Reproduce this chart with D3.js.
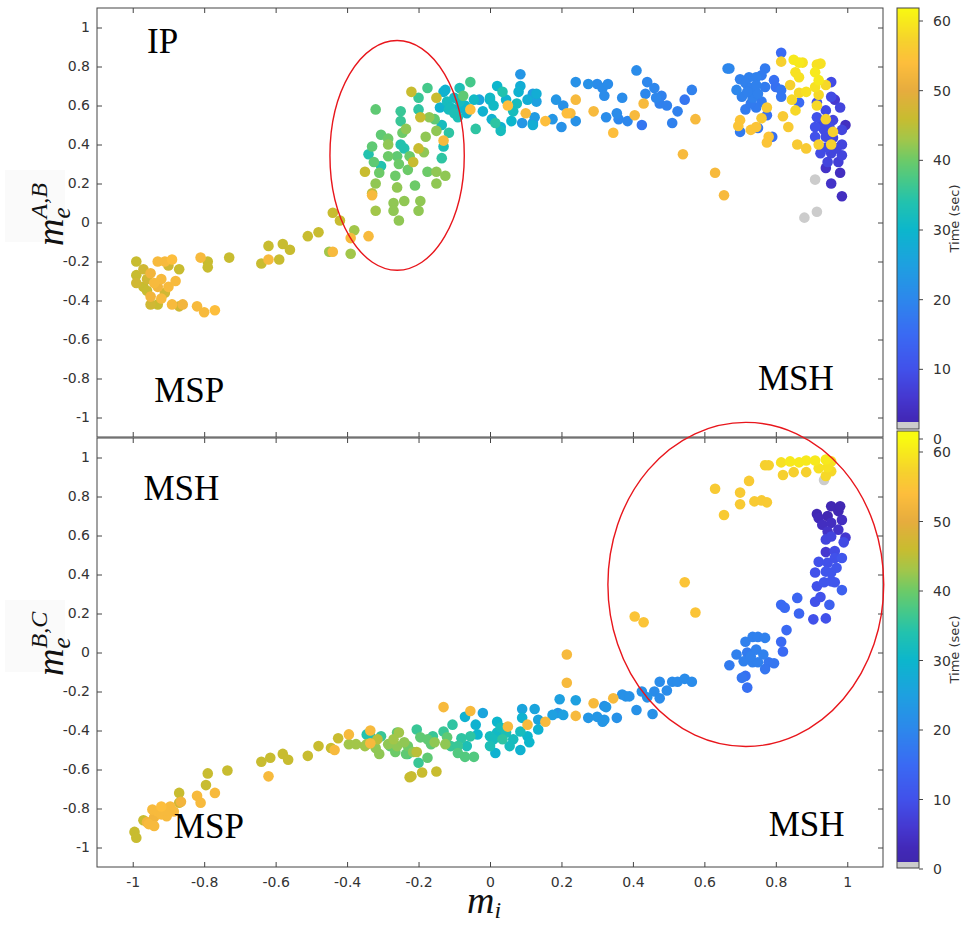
<!DOCTYPE html>
<html>
<head>
<meta charset="utf-8">
<script src="https://cdn.jsdelivr.net/npm/d3@7"></script>
<style>
  body { margin: 0; background: #fff; }
</style>
</head>
<body>
<div id="chart"></div>
<script>
// tick values / labels
var xTicks = [-1, -0.8, -0.6, -0.4, -0.2, 0, 0.2, 0.4, 0.6, 0.8, 1];
var yTicks = [-1, -0.8, -0.6, -0.4, -0.2, 0, 0.2, 0.4, 0.6, 0.8, 1];
var cbTicks = [0, 10, 20, 30, 40, 50, 60];
var cbTitle = "Time (sec)";

// region labels [text, m_i, m_e] (text left / baseline)
var topNotes = [["IP", -0.96, 0.87], ["MSP", -0.94, -0.92], ["MSH", 0.75, -0.86]];
var botNotes = [["MSH", -0.97, 0.78], ["MSP", -0.885, -0.95], ["MSH", 0.78, -0.94]];

// red ellipses [cx, cy, rx, ry] in data units
var topEllipse = [-0.26, 0.344, 0.188, 0.589];
var botEllipse = [0.716, 0.349, 0.386, 0.831];

// points: [m_i, m_e, time in sec]  (time 0 = grey / no value)
var topPts = [
  [-0.99,-0.20,46],[-0.99,-0.27,46],[-0.99,-0.31,47],[-0.97,-0.33,46],[-0.96,-0.29,47],[-0.95,-0.26,52],[-0.93,-0.20,53],
  [-0.91,-0.20,53],[-0.89,-0.19,54],[-0.90,-0.22,47],[-0.87,-0.24,46],[-0.92,-0.29,53],[-0.93,-0.33,52],[-0.90,-0.33,53],
  [-0.91,-0.36,47],[-0.95,-0.38,52],[-0.95,-0.42,47],[-0.93,-0.42,46],[-0.89,-0.42,53],[-0.86,-0.42,52],[-0.87,-0.43,47],
  [-0.82,-0.43,53],[-0.80,-0.46,53],[-0.77,-0.45,54],[-0.81,-0.18,53],[-0.79,-0.20,46],[-0.79,-0.23,46],[-0.73,-0.18,46],
  [-0.64,-0.21,46],[-0.62,-0.19,53],[-0.59,-0.19,46],[-0.62,-0.12,46],[-0.58,-0.11,46],[-0.56,-0.14,46],[-0.51,-0.07,46],
  [-0.48,-0.05,46],[-0.44,0.05,46],[-0.42,0.01,46],[-0.38,-0.04,43],[-0.39,-0.08,53],[-0.45,-0.15,43],[-0.44,-0.15,53],
  [-0.39,-0.16,43],[-0.34,-0.07,53],[-0.33,0.14,53],[-0.32,0.06,43],
  [-0.97,-0.24,47],[-0.94,-0.31,53],[-0.92,-0.39,53],[-0.96,-0.35,46],[-0.88,-0.30,53],
  [-0.32,0.58,39],[-0.25,0.57,36],[-0.25,0.52,36],[-0.22,0.67,46],[-0.175,0.69,37],[-0.20,0.64,36],[-0.20,0.58,35],
  [-0.195,0.54,46],[-0.17,0.54,42],[-0.155,0.53,39],[-0.15,0.64,46],[-0.15,0.47,42],[-0.13,0.42,53],[-0.13,0.39,33],
  [-0.135,0.33,35],[-0.115,0.46,35],[-0.135,0.50,32],[-0.18,0.44,42],[-0.235,0.48,42],[-0.245,0.46,40],[-0.285,0.43,40],
  [-0.305,0.45,39],[-0.33,0.39,39],[-0.34,0.35,34],[-0.325,0.31,39],[-0.305,0.29,34],[-0.285,0.40,42],[-0.25,0.40,34],
  [-0.24,0.38,34],[-0.285,0.34,40],[-0.26,0.34,39],[-0.225,0.34,40],[-0.20,0.38,46],[-0.185,0.36,42],[-0.215,0.31,46],
  [-0.255,0.30,40],[-0.23,0.27,40],[-0.175,0.26,40],[-0.15,0.26,42],[-0.125,0.24,42],[-0.35,0.26,46],[-0.31,0.255,40],
  [-0.265,0.24,40],[-0.32,0.20,42],[-0.26,0.18,42],[-0.21,0.19,40],[-0.15,0.20,42],[-0.33,0.15,45],[-0.27,0.10,42],
  [-0.27,0.06,42],[-0.24,0.11,42],[-0.195,0.11,42],[-0.20,0.06,42],[-0.255,0.01,42],
  [-0.13,0.67,29],[-0.12,0.62,32],[-0.14,0.59,29],[-0.115,0.58,32],[-0.09,0.58,29],[-0.075,0.65,39],[-0.055,0.72,37],
  [-0.085,0.69,33],[-0.085,0.62,32],[-0.09,0.54,33],[-0.065,0.56,29],[-0.045,0.63,31],[-0.055,0.58,54],[-0.04,0.48,35],
  [-0.03,0.63,26],[-0.02,0.57,29],[0.0,0.63,30],[0.02,0.70,30],[0.005,0.53,29],[0.03,0.49,29],[0.035,0.67,34],
  [0.05,0.60,54],[0.085,0.76,23],[0.085,0.70,28],[0.075,0.61,32],[0.10,0.56,53],[0.09,0.51,23],[0.12,0.66,24],
  [0.13,0.62,25],[0.12,0.51,24],[0.155,0.52,54],[0.185,0.63,23],[-0.125,0.68,29],[-0.11,0.59,32],[0.0,0.64,31],
  [0.015,0.51,35],[0.03,0.47,32],[0.065,0.57,32],[0.08,0.67,29],[0.105,0.63,28],[0.12,0.50,28],[0.13,0.66,28],
  [0.125,0.54,24],[0.175,0.53,23],[0.20,0.49,22],[0.205,0.60,22],[0.215,0.56,54],[0.225,0.56,53],[0.24,0.63,53],
  [0.24,0.72,22],[0.24,0.52,22],[0.275,0.71,22],[0.29,0.57,53],[0.30,0.71,21],[0.315,0.69,21],[0.32,0.65,21],
  [0.33,0.71,21],[0.325,0.54,21],[0.345,0.46,54],[0.355,0.56,21],[0.37,0.64,21],[0.36,0.53,20],[0.385,0.52,20],
  [0.405,0.55,53],[0.41,0.78,21],[0.425,0.50,17],[0.43,0.61,53],[0.435,0.66,20],[0.44,0.72,20],[0.46,0.69,20],
  [0.465,0.64,20],[0.48,0.65,19],[0.475,0.61,19],[0.495,0.60,19],[0.525,0.57,19],[0.51,0.51,19],[0.545,0.63,17],
  [0.565,0.68,19],[0.575,0.53,53],[0.54,0.35,53],[0.63,0.255,53],[0.655,0.14,53],[0.665,0.79,20],
  [-0.10,0.64,31],[-0.07,0.60,30],[-0.10,0.56,33],[0.01,0.60,31],[0.045,0.63,29],[0.06,0.52,30],
  [0.67,0.79,20],[0.815,0.87,15],[0.77,0.79,18],[0.70,0.735,19],[0.725,0.745,19],[0.745,0.745,19],[0.76,0.755,18],
  [0.69,0.68,20],[0.715,0.715,19],[0.73,0.69,19],[0.745,0.705,19],[0.77,0.695,18],[0.795,0.73,16],[0.80,0.695,16],
  [0.705,0.645,19],[0.735,0.64,19],[0.76,0.62,18],[0.715,0.58,18],[0.745,0.59,18],[0.775,0.55,16],[0.775,0.59,56],
  [0.70,0.525,55],[0.695,0.495,55],[0.70,0.465,18],[0.73,0.475,55],[0.745,0.49,55],[0.76,0.535,56],[0.75,0.485,17],
  [0.78,0.44,55],[0.79,0.44,16],[0.775,0.41,55],[0.815,0.68,17],[0.815,0.645,17],[0.815,0.825,57],[0.85,0.835,60],
  [0.865,0.82,60],[0.875,0.82,59],[0.855,0.77,59],[0.865,0.745,59],[0.84,0.705,57],[0.865,0.665,58],[0.885,0.67,59],
  [0.865,0.615,15],[0.845,0.63,58],[0.855,0.575,58],[0.82,0.545,56],[0.835,0.49,56],[0.915,0.81,59],[0.925,0.815,59],
  [0.91,0.77,60],[0.92,0.73,60],[0.91,0.695,59],[0.94,0.705,58],[0.955,0.72,9],[0.92,0.655,58],[0.955,0.645,9],
  [0.915,0.615,10],[0.915,0.60,58],[0.965,0.63,6],[0.98,0.59,8],[0.94,0.575,9],[0.915,0.54,10],[0.94,0.53,57],
  [0.96,0.525,8],[0.995,0.50,4],[0.91,0.49,10],[0.935,0.475,9],[0.96,0.465,57],[0.985,0.475,8],[0.91,0.44,10],
  [0.94,0.44,9],[0.96,0.435,8],[0.92,0.40,57],[0.955,0.40,57],[0.94,0.385,9],[0.985,0.40,8],[0.925,0.355,9],
  [0.955,0.355,8],[0.985,0.345,8],[0.945,0.31,8],[0.975,0.31,7],[0.94,0.28,5],[0.98,0.255,4],[0.86,0.40,56],
  [0.885,0.38,56],[0.91,0.22,0],[0.955,0.20,5],[0.985,0.135,4],[0.915,0.055,0],[0.88,0.025,0],
  [0.72,0.67,19],[0.75,0.66,19],[0.73,0.61,18],[0.93,0.51,9],[0.95,0.49,9],[0.97,0.38,8]
];

var botPts = [
  [-0.995,-0.92,46],[-0.99,-0.95,46],[-0.97,-0.86,46],[-0.955,-0.88,53],[-0.94,-0.89,53],[-0.945,-0.805,53],
  [-0.93,-0.815,53],[-0.92,-0.79,54],[-0.905,-0.84,53],[-0.895,-0.79,53],[-0.94,-0.845,52],[-0.885,-0.815,53],
  [-0.87,-0.77,47],[-0.865,-0.765,52],[-0.87,-0.72,46],[-0.82,-0.735,53],[-0.81,-0.77,53],[-0.795,-0.68,46],
  [-0.79,-0.62,46],[-0.77,-0.72,53],[-0.735,-0.605,46],[-0.64,-0.56,46],[-0.615,-0.54,46],[-0.62,-0.635,53],
  [-0.58,-0.52,46],[-0.565,-0.55,46],[-0.51,-0.53,46],[-0.48,-0.48,46],[-0.445,-0.49,46],[-0.435,-0.50,53],
  [-0.425,-0.44,46],[-0.395,-0.42,53],[-0.395,-0.47,43],[-0.375,-0.47,43],[-0.335,-0.40,53],[-0.345,-0.47,43],
  [-0.335,-0.465,53],[-0.305,-0.43,36],[-0.315,-0.445,45],[-0.345,-0.42,34],[-0.26,-0.41,39],[-0.28,-0.48,39],
  [-0.24,-0.46,42],[-0.23,-0.52,36],[-0.225,-0.64,46],
  [-0.335,-0.43,34],[-0.35,-0.48,43],[-0.32,-0.49,42],[-0.31,-0.52,42],[-0.285,-0.47,42],[-0.27,-0.445,43],
  [-0.255,-0.41,43],[-0.26,-0.48,42],[-0.23,-0.48,40],[-0.265,-0.51,40],[-0.235,-0.52,39],[-0.215,-0.51,42],
  [-0.205,-0.51,45],[-0.205,-0.395,36],[-0.195,-0.435,39],[-0.175,-0.445,39],[-0.165,-0.47,39],[-0.155,-0.46,42],
  [-0.125,-0.47,42],[-0.20,-0.565,36],[-0.175,-0.54,39],[-0.22,-0.635,46],[-0.19,-0.615,46],[-0.15,-0.61,46],
  [-0.13,-0.28,53],[-0.13,-0.405,36],[-0.12,-0.435,39],[-0.105,-0.37,35],[-0.11,-0.48,36],[-0.09,-0.48,36],
  [-0.09,-0.515,38],[-0.07,-0.535,38],[-0.045,-0.535,38],[-0.07,-0.33,29],[-0.055,-0.30,53],[-0.04,-0.37,29],
  [-0.035,-0.42,30],[-0.055,-0.43,35],[-0.065,-0.48,33],[-0.02,-0.31,26],[0.0,-0.43,32],[0.01,-0.445,32],
  [0.015,-0.515,29],[0.0,-0.48,33],[0.02,-0.355,30],[0.03,-0.385,32],[0.035,-0.445,35],[0.045,-0.41,33],
  [0.05,-0.38,53],[0.065,-0.445,32],[0.055,-0.48,32],[0.09,-0.335,29],[0.09,-0.29,26],[0.105,-0.37,53],
  [0.085,-0.405,32],[0.105,-0.43,30],[0.11,-0.46,30],[0.085,-0.50,29],[0.125,-0.29,26],[0.135,-0.345,26],
  [0.135,-0.395,29],[0.155,-0.355,53],[0.175,-0.32,25],[0.205,-0.32,25],[0.19,-0.31,23],[0.195,-0.24,25],
  [0.24,-0.245,25],[0.24,-0.325,53],[0.215,-0.155,53],[0.215,-0.01,53],[0.275,-0.335,23],[0.29,-0.26,53],
  [0.30,-0.33,23],[0.315,-0.355,23],[0.325,-0.28,23],[0.345,-0.235,53],[0.355,-0.335,22],[0.37,-0.215,22],
  [0.38,-0.225,22],
  [-0.92,-0.83,53],[-0.91,-0.81,53],[-0.96,-0.87,52],[-0.16,-0.43,36],[-0.08,-0.44,35],[0.02,-0.41,31],
  [0.32,-0.275,22],[0.32,-0.345,23],[0.39,-0.225,22],[0.41,-0.295,22],[0.425,-0.20,22],[0.44,-0.23,22],
  [0.455,-0.315,22],[0.46,-0.20,21],[0.475,-0.235,21],[0.475,-0.15,21],[0.495,-0.195,21],[0.51,-0.15,21],
  [0.525,-0.15,21],[0.545,-0.135,21],[0.565,-0.15,21],[0.67,-0.065,18],[0.69,-0.01,19],[0.715,0.055,19],
  [0.735,0.08,19],[0.75,0.08,19],[0.77,0.075,19],[0.72,0.0,18],[0.745,0.015,19],[0.765,-0.01,19],
  [0.71,-0.045,19],[0.735,-0.05,19],[0.75,-0.05,19],[0.78,-0.05,17],[0.795,-0.055,17],[0.77,-0.085,17],
  [0.73,-0.02,19],[0.705,-0.13,17],[0.72,-0.18,16],[0.715,-0.12,16],[0.815,0.055,15],[0.82,0.005,15],
  [0.83,0.115,15],[0.815,0.245,15],[0.825,0.23,15],[0.86,0.28,14],[0.865,0.20,14],[0.91,0.26,10],
  [0.905,0.17,10],[0.94,0.175,10],[0.95,0.245,13],[0.925,0.285,10],[0.915,0.34,10],[0.935,0.36,11],
  [0.955,0.365,11],[0.965,0.36,11],[0.985,0.32,13],[0.91,0.41,10],[0.94,0.415,11],[0.955,0.41,11],
  [0.97,0.435,11],[0.92,0.465,10],[0.945,0.46,10],[0.965,0.485,10],[0.985,0.485,11],[0.94,0.515,6],
  [0.965,0.52,9],[0.99,0.565,9],[0.94,0.58,8],[0.955,0.595,8],[0.995,0.59,6],[0.945,0.62,5],[0.975,0.63,5],
  [0.93,0.655,4],[0.955,0.665,4],[0.985,0.68,4],[0.92,0.69,3],[0.945,0.70,2],[0.975,0.725,2],[0.955,0.75,2],
  [0.98,0.75,2],[0.915,0.71,2],
  [0.77,0.96,57],[0.78,0.96,57],[0.815,0.975,59],[0.84,0.98,60],[0.865,0.975,60],[0.885,0.985,60],
  [0.91,0.985,60],[0.94,0.99,60],[0.955,0.98,59],[0.945,0.95,59],[0.92,0.945,59],[0.955,0.93,58],
  [0.94,0.905,58],[0.935,0.885,0],[0.82,0.91,57],[0.85,0.925,57],[0.885,0.925,57],[0.725,0.88,56],
  [0.63,0.84,56],[0.70,0.82,56],[0.70,0.76,56],[0.74,0.775,56],[0.76,0.78,56],[0.775,0.77,56],
  [0.655,0.705,56],[0.545,0.36,55],[0.405,0.185,55],[0.43,0.155,55],[0.575,0.205,55]
];

// parula-like colormap
var cmapT = [0, 3, 6, 10, 15, 20, 25, 30, 34, 37, 40, 43, 46, 50, 54, 57, 62];
var cmapC = ["#3e26a8","#4229b8","#4538d0","#4151ea","#3a6af3","#2d87ec","#1ea0e0","#0cb6cc","#22c2ae",
             "#45c88a","#6cca68","#a2c64a","#c8bc30","#e6ac3e","#fdbe3c","#f6d02e","#f8fa10"];
var cmap = d3.scaleLinear().domain(cmapT).range(cmapC).clamp(true);
function colorOf(t) { return t < 0.5 ? "#cccccc" : cmap(t); }

var W = 975, H = 925;
var svg = d3.select("#chart").append("svg")
  .attr("width", W).attr("height", H)
  .style("font-family", "'DejaVu Sans', sans-serif");

var x = d3.scaleLinear().domain([-1.1, 1.1]).range([97, 883]);

var panels = [
  { pts: topPts, top: 8, bottom: 437, sup: "A,B", notes: topNotes, ell: topEllipse, xlabels: false,
    labelY: 246, bgY: 170, cb: { y0: 439, y60: 21, barTop: 8, grayTop: 422, barBot: 429 } },
  { pts: botPts, top: 438, bottom: 867, sup: "B,C", notes: botNotes, ell: botEllipse, xlabels: true,
    labelY: 676, bgY: 600, cb: { y0: 869, y60: 452, barTop: 431, grayTop: 862, barBot: 868 } }
];

panels.forEach(function(p) {
  var y = d3.scaleLinear().domain([-1.1, 1.1]).range([p.bottom, p.top]);
  var g = svg.append("g");

  // faint box behind y label
  g.append("rect").attr("x", 5).attr("y", p.bgY).attr("width", 60).attr("height", 72).attr("fill", "#fafafa");

  // points, later times drawn on top
  var pts = p.pts.slice().sort(function(a, b) { return a[2] - b[2]; });
  g.selectAll("circle.pt").data(pts).enter().append("circle")
    .attr("class", "pt")
    .attr("cx", function(d) { return x(d[0]); })
    .attr("cy", function(d) { return y(d[1]); })
    .attr("r", 5.3)
    .attr("fill", function(d) { return colorOf(d[2]); });

  // axes, ticks pointing inward
  var left = g.append("g").attr("transform", "translate(" + x.range()[0] + ",0)")
    .call(d3.axisLeft(y).tickValues(yTicks).tickSize(-5).tickPadding(7).tickFormat(function(d) { return String(d); }));
  var right = g.append("g").attr("transform", "translate(" + x.range()[1] + ",0)")
    .call(d3.axisRight(y).tickValues(yTicks).tickSize(-5).tickFormat(""));
  var topAx = g.append("g").attr("transform", "translate(0," + p.top + ")")
    .call(d3.axisTop(x).tickValues(xTicks).tickSize(-5).tickFormat(""));
  var botAx = g.append("g").attr("transform", "translate(0," + p.bottom + ")")
    .call(d3.axisBottom(x).tickValues(xTicks).tickSize(-5).tickPadding(10)
      .tickFormat(p.xlabels ? function(d) { return String(d); } : ""));
  [left, right, topAx, botAx].forEach(function(a) {
    a.select(".domain").remove();
    a.selectAll("line").attr("stroke", "#444");
    a.selectAll("text").attr("fill", "#333").style("font-size", "14px").style("font-family", "'DejaVu Sans', sans-serif");
  });
  g.append("rect")
    .attr("x", x.range()[0]).attr("y", p.top)
    .attr("width", x.range()[1] - x.range()[0]).attr("height", p.bottom - p.top)
    .attr("fill", "none").attr("stroke", "#444").attr("stroke-width", 1);

  // region labels
  g.selectAll("text.note").data(p.notes).enter().append("text")
    .attr("class", "note")
    .attr("x", function(d) { return x(d[1]); })
    .attr("y", function(d) { return y(d[2]); })
    .style("font-family", "'Liberation Serif', 'Times New Roman', serif")
    .style("font-size", "35px")
    .attr("fill", "#000")
    .text(function(d) { return d[0]; });

  // y label  m_e^{..}
  var yl = g.append("text")
    .attr("transform", "translate(63," + p.labelY + ") rotate(-90)")
    .style("font-family", "'Liberation Serif', serif")
    .style("font-style", "italic")
    .attr("fill", "#111");
  yl.append("tspan").style("font-size", "38px").text("m");
  yl.append("tspan").style("font-size", "25px").attr("dy", 7).text("e");
  yl.append("tspan").style("font-size", "24px").attr("dx", -11).attr("dy", -23).text(p.sup);

  p.yScale = y;
});

// colorbars (bottom one drawn last so it overlaps)
panels.forEach(function(p) {
  var c = p.cb;
  var cy = d3.scaleLinear().domain([0, 60]).range([c.y0, c.y60]);
  var g = svg.append("g");
  var rows = d3.range(c.barTop, c.grayTop);
  g.selectAll("rect.cb").data(rows).enter().append("rect")
    .attr("x", 897).attr("y", function(d) { return d; })
    .attr("width", 22).attr("height", 1.2)
    .attr("fill", function(d) { return cmap(cy.invert(d + 0.5)); });
  g.append("rect").attr("x", 897).attr("y", c.grayTop).attr("width", 22)
    .attr("height", c.barBot - c.grayTop).attr("fill", "#cccccc");
  g.append("rect").attr("x", 897).attr("y", c.barTop).attr("width", 22)
    .attr("height", c.barBot - c.barTop).attr("fill", "none").attr("stroke", "#444");
  g.selectAll("line.cbt").data(cbTicks).enter().append("line")
    .attr("x1", 919).attr("x2", 923)
    .attr("y1", function(d) { return cy(d); }).attr("y2", function(d) { return cy(d); })
    .attr("stroke", "#444");
  g.selectAll("text.cbl").data(cbTicks).enter().append("text")
    .attr("x", 933).attr("y", function(d) { return cy(d); }).attr("dy", "0.36em")
    .attr("fill", "#333").style("font-size", "14px")
    .text(function(d) { return d; });
  g.append("text")
    .attr("transform", "translate(959," + ((c.barTop + c.barBot) / 2) + ") rotate(-90)")
    .attr("text-anchor", "middle").attr("fill", "#333").style("font-size", "13px")
    .text(cbTitle);
});

// red ellipses
panels.forEach(function(p) {
  var e = p.ell, y = p.yScale;
  svg.append("ellipse")
    .attr("cx", x(e[0])).attr("cy", y(e[1]))
    .attr("rx", x(e[2]) - x(0)).attr("ry", y(0) - y(e[3]))
    .attr("fill", "none").attr("stroke", "#e8161c").attr("stroke-width", 1.4);
});

// x label m_i
var xl = svg.append("text")
  .attr("x", 484).attr("y", 913)
  .attr("text-anchor", "middle")
  .style("font-family", "'Liberation Serif', serif")
  .style("font-style", "italic")
  .attr("fill", "#111");
xl.append("tspan").style("font-size", "38px").text("m");
xl.append("tspan").style("font-size", "24px").attr("dy", 5).text("i");
</script>
</body>
</html>
